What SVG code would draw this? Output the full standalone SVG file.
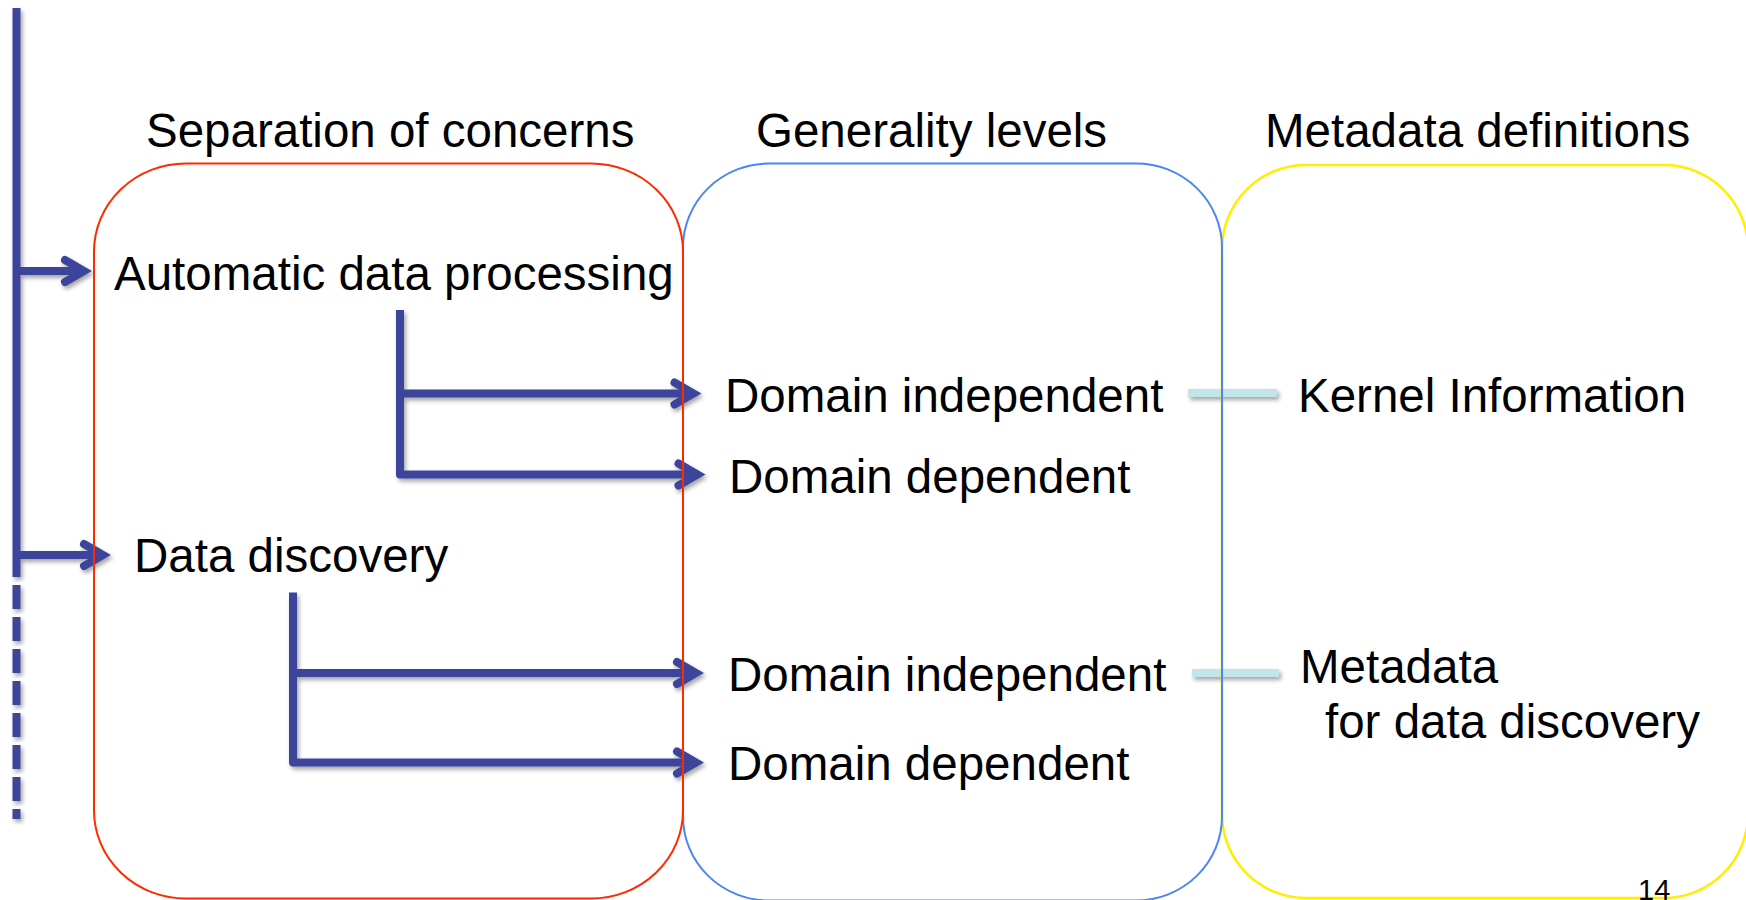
<svg xmlns="http://www.w3.org/2000/svg" width="1746" height="900" viewBox="0 0 1746 900">
  <defs>
    <style>
      .label { font-family: "Liberation Sans", Arial, Helvetica, sans-serif; font-size: 47.5px; fill: #000; }
      .page { font-family: "Liberation Sans", Arial, Helvetica, sans-serif; font-size: 29px; fill: #000; }
      .frame { fill: none; }
      .flow { fill: none; stroke: #3c459b; stroke-width: 8; stroke-linejoin: round; }
      .link { fill: none; stroke: #c2e5e8; stroke-width: 8; }
    </style>
    <filter id="shadow" x="-10%" y="-10%" width="130%" height="130%">
      <feDropShadow dx="2" dy="3" stdDeviation="2" flood-color="#000" flood-opacity="0.35"/>
    </filter>
    <marker id="chevron" markerUnits="userSpaceOnUse" viewBox="-30 -20 40 40" markerWidth="40" markerHeight="40" refX="0" refY="0" orient="auto" overflow="visible">
      <path d="M-19,-11 L0,0 L-19,11" fill="none" stroke="#3c459b" stroke-width="8" stroke-linecap="round" stroke-linejoin="miter"/>
    </marker>
  </defs>

  <rect width="1746" height="900" fill="#fff"/>

  <!-- connectors: flow arrows and links to metadata definitions -->
  <g id="connectors" filter="url(#shadow)">
    <line class="flow" x1="16.5" y1="8" x2="16.5" y2="577"/>
    <line class="flow" x1="16.5" y1="585" x2="16.5" y2="819" stroke-dasharray="24 8"/>
    <line class="flow" x1="16.5" y1="271" x2="84" y2="271" marker-end="url(#chevron)"/>
    <line class="flow" x1="16.5" y1="555" x2="103" y2="555" marker-end="url(#chevron)"/>
    <path class="flow" d="M400,310 V474.5 H697.5" marker-end="url(#chevron)"/>
    <line class="flow" x1="400" y1="393.5" x2="693.5" y2="393.5" marker-end="url(#chevron)"/>
    <path class="flow" d="M293,592.5 V762.5 H696" marker-end="url(#chevron)"/>
    <line class="flow" x1="293" y1="673" x2="696" y2="673" marker-end="url(#chevron)"/>
    <line class="link" x1="1188" y1="393" x2="1277" y2="393"/>
    <line class="link" x1="1192" y1="673" x2="1279" y2="673"/>
  </g>

  <!-- metadata definitions column -->
  <g id="metadata-definitions">
    <rect class="frame" x="1222" y="165" width="526" height="733" rx="84" ry="84" stroke="#ffee00" stroke-width="2.5"/>
    <text class="label" x="1265" y="147">Metadata definitions</text>
  </g>

  <!-- generality levels column -->
  <g id="generality-levels">
    <rect class="frame" x="683" y="163.5" width="539" height="737" rx="86" ry="84" stroke="#4a86f5" stroke-width="2"/>
    <text class="label" x="756" y="147">Generality levels</text>
  </g>

  <!-- separation of concerns column -->
  <g id="separation-of-concerns">
    <rect class="frame" x="94" y="163.5" width="589" height="735" rx="92" ry="88" stroke="#ff2a00" stroke-width="2"/>
    <text class="label" x="146" y="147">Separation of concerns</text>
  </g>

  <g id="automatic-data-processing">
    <text class="label" x="114" y="290">Automatic data processing</text>
  </g>
  <g id="data-discovery">
    <text class="label" x="134" y="572">Data discovery</text>
  </g>

  <g id="adp-domain-independent">
    <text class="label" x="725" y="412">Domain independent</text>
  </g>
  <g id="adp-domain-dependent">
    <text class="label" x="729" y="493">Domain dependent</text>
  </g>
  <g id="dd-domain-independent">
    <text class="label" x="728" y="691">Domain independent</text>
  </g>
  <g id="dd-domain-dependent">
    <text class="label" x="728" y="780">Domain dependent</text>
  </g>

  <g id="kernel-information">
    <text class="label" x="1298" y="412">Kernel Information</text>
  </g>
  <g id="discovery-metadata">
    <text class="label" x="1300" y="683">Metadata</text>
    <text class="label" x="1325" y="738">for data discovery</text>
  </g>

  <g id="page-number">
    <text class="page" x="1638" y="900">14</text>
  </g>
</svg>
